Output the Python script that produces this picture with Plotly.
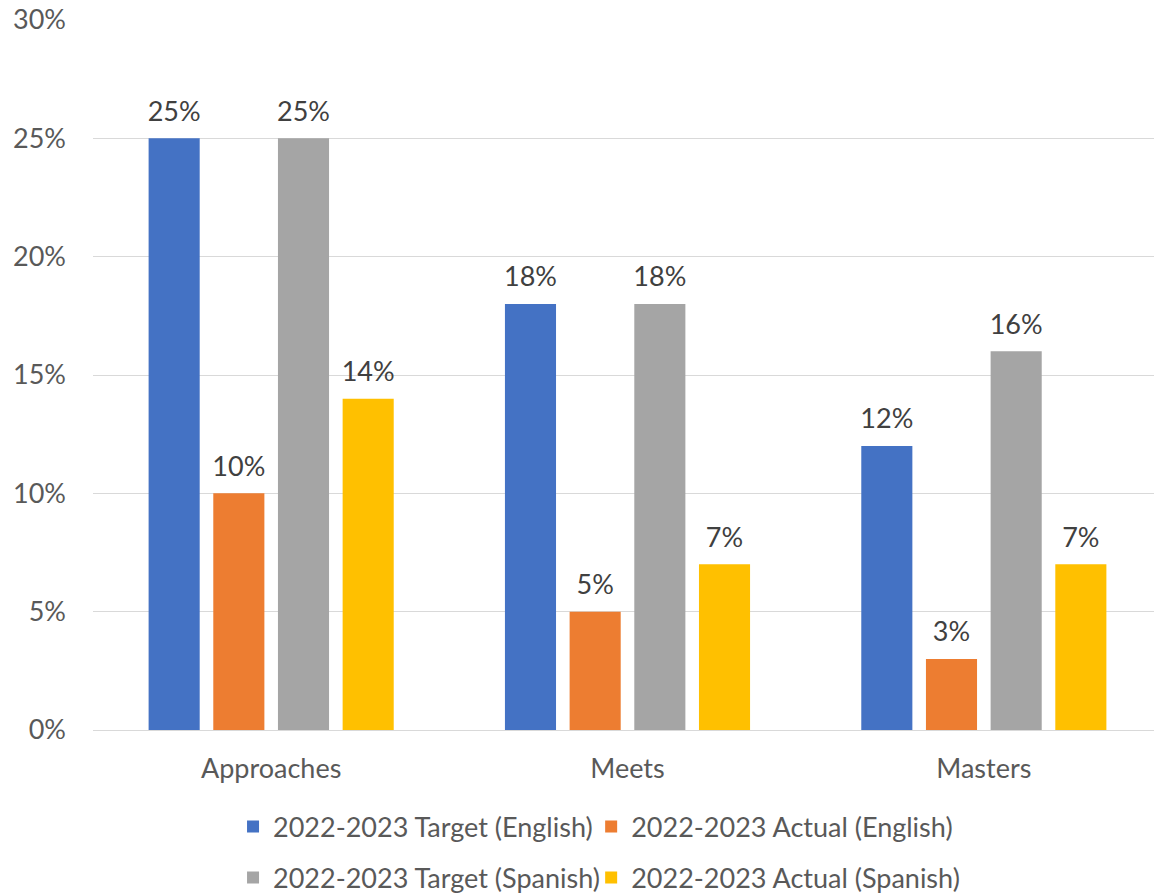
import plotly.graph_objects as go

categories = ["Approaches", "Meets", "Masters"]
series_names = [
    "2022-2023 Target (English)",
    "2022-2023 Actual (English)",
    "2022-2023 Target (Spanish)",
    "2022-2023 Actual (Spanish)",
]
target_english = [25, 18, 12]
actual_english = [10, 5, 3]
target_spanish = [25, 18, 16]
actual_spanish = [14, 7, 7]
colors = ["#4472C4", "#ED7D31", "#A5A5A5", "#FFC000"]
y_ticks = [0, 5, 10, 15, 20, 25, 30]

FONT = "Lato"
FS = 27
all_values = [target_english, actual_english, target_spanish, actual_spanish]
legend_ids = ["legend", "legend2", "legend3", "legend4"]
legend_x = [0.131, 0.466, 0.131, 0.466]
legend_y = [-0.1366, -0.1366, -0.2085, -0.2085]

fig = go.Figure()
for i, (name, vals, col, lg) in enumerate(zip(series_names, all_values, colors, legend_ids)):
    fig.add_trace(go.Bar(
        x=categories, y=vals, name=name,
        marker=dict(color=col, line=dict(width=0)),
        offsetgroup=str(i),
        legend=lg,
    ))
for i, vals in enumerate(all_values):
    fig.add_trace(go.Scatter(
        x=categories, y=vals, mode="markers+text",
        text=[f"{v}%" for v in vals], textposition="top center",
        textfont=dict(family=FONT, size=FS, color="#404040"),
        marker=dict(size=16, opacity=0),
        offsetgroup=str(i),
        showlegend=False, hoverinfo="skip", cliponaxis=False,
    ))

legend_layouts = {}
for lg, lx, ly in zip(legend_ids, legend_x, legend_y):
    legend_layouts[lg] = dict(
        orientation="h", xanchor="left", x=lx, yanchor="middle", y=ly,
        font=dict(family=FONT, size=FS, color="#595959"),
        bgcolor="rgba(0,0,0,0)", itemwidth=30,
    )

fig.update_layout(
    width=1154, height=885,
    margin=dict(l=85, r=0, t=12, b=163, autoexpand=False),
    paper_bgcolor="white", plot_bgcolor="white",
    barmode="group", bargap=0.274, bargroupgap=0.21,
    scattermode="group", scattergap=0.274,
    font=dict(family=FONT, size=FS, color="#595959"),
    showlegend=True,
    xaxis=dict(
        range=[-0.5, 2.5], showgrid=False, showline=False, zeroline=False,
        ticks="", ticklabelstandoff=20,
        tickfont=dict(family=FONT, size=FS, color="#595959"),
    ),
    yaxis=dict(
        range=[0, 30], tickvals=y_ticks, ticktext=[f"{t}%" for t in y_ticks],
        showgrid=True, gridcolor="#D9D9D9", gridwidth=1.3,
        zeroline=True, zerolinecolor="#D9D9D9", zerolinewidth=1.3,
        showline=False, ticks="", ticklabelstandoff=26,
        ticklabeloverflow="allow",
        tickfont=dict(family=FONT, size=FS, color="#595959"),
    ),
    **legend_layouts,
)

fig.write_html("out.html")
